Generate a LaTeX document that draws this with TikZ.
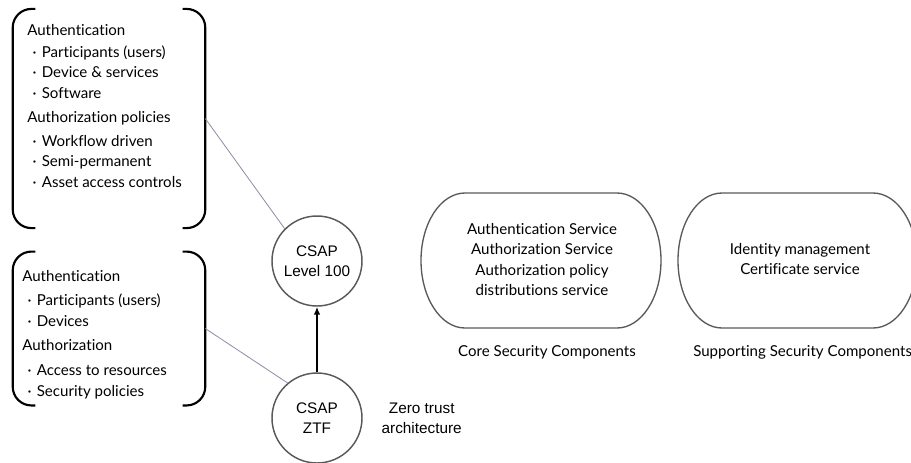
\documentclass[tikz,border=0pt]{standalone}
\usepackage{fontspec}
\setmainfont[Ligatures=NoCommon]{Lato}
\newfontfamily\arialfont{Liberation Sans}
\usetikzlibrary{arrows.meta,calc,positioning}

\tikzset{
  bracket/.style={line width=1.6pt, rounded corners=14pt},
  circnode/.style={circle, draw=black!65, line width=1.1pt, minimum size=67.5pt, inner sep=0pt, align=center, font=\arialfont\fontsize{11.5}{15}\selectfont},
  pill/.style={draw=black!65, line width=1pt},
  link/.style={draw=blue!20!black!45, line width=0.6pt},
  listtext/.style={align=left, inner sep=0pt, font=\fontsize{11.3}{15.4}\selectfont},
  pilltext/.style={align=center, inner sep=0pt, font=\fontsize{11.3}{15.4}\selectfont},
}
\newcommand{\itm}{\hspace*{4pt}\textperiodcentered\hspace{4pt}}

\begin{document}
\begin{tikzpicture}[x=0.75pt, y=-0.75pt]
    \useasboundingbox (0,0) rectangle (911,462);

    % bracketed lists
    \node[minimum width=144pt, minimum height=164pt, inner sep=0pt] (authbox) at (109,118.5) {};
    \node[minimum width=144pt, minimum height=115pt, inner sep=0pt] (ztfbox) at (109,328.5) {};
    \foreach \b in {authbox, ztfbox} {
        \draw[bracket] ([xshift=17pt]\b.north west) -- (\b.north west) -- (\b.south west) -- ([xshift=17pt]\b.south west);
        \draw[bracket] ([xshift=-17pt]\b.north east) -- (\b.north east) -- (\b.south east) -- ([xshift=-17pt]\b.south east);
    }
    \node[listtext, anchor=north west] (authtxt) at (27,24) {Authentication\\[1pt]
        \itm Participants (users)\\ \itm Device \& services\\ \itm Software\\[3pt]
        Authorization policies\\[2pt]
        \itm Workflow driven\\ \itm Semi-permanent\\ \itm Asset access controls};
    \node[listtext, anchor=north west] (ztftxt) at (22,270) {Authentication\\[3pt]
        \itm Participants (users)\\ \itm Devices\\[3pt]
        Authorization\\[3pt]
        \itm Access to resources\\ \itm Security policies};

    % levels
    \node[circnode] (lvl) at (317,261) {CSAP\\Level 100};
    \node[circnode] (ztf) at (317,418) {CSAP\\ZTF};
    \node[right=14pt of ztf, align=center, inner sep=0pt, font=\arialfont\fontsize{11.5}{15}\selectfont] (ztfnote) {Zero trust\\architecture};
    \draw[-{Latex[length=6pt,width=5pt]}, line width=1.5pt] (ztf) -- (lvl);
    \draw[link] (authbox.east) -- (lvl.135);
    \draw[link] (ztfbox.east) -- (ztf.130);

    % components
    \node[pilltext] (core) at (542,259.5) {Authentication Service\\Authorization Service\\Authorization policy\\distributions service};
    \draw[pill] (465,193) -- (617,193) arc[start angle=-90, end angle=90, x radius=44, y radius=67.5]
        -- (465,328) arc[start angle=90, end angle=270, x radius=44, y radius=67.5] -- cycle;
    \node[pilltext] (supp) at (800,259) {Identity management\\Certificate service};
    \draw[pill] (722,193) -- (873,193) arc[start angle=-90, end angle=90, x radius=44, y radius=67.5]
        -- (722,328) arc[start angle=90, end angle=270, x radius=44, y radius=67.5] -- cycle;
    \node[pilltext] (corelbl) at (547,352) {Core Security Components};
    \node[pilltext, anchor=west] (supplbl) at (693,352) {Supporting Security Components};
\end{tikzpicture}
\end{document}
